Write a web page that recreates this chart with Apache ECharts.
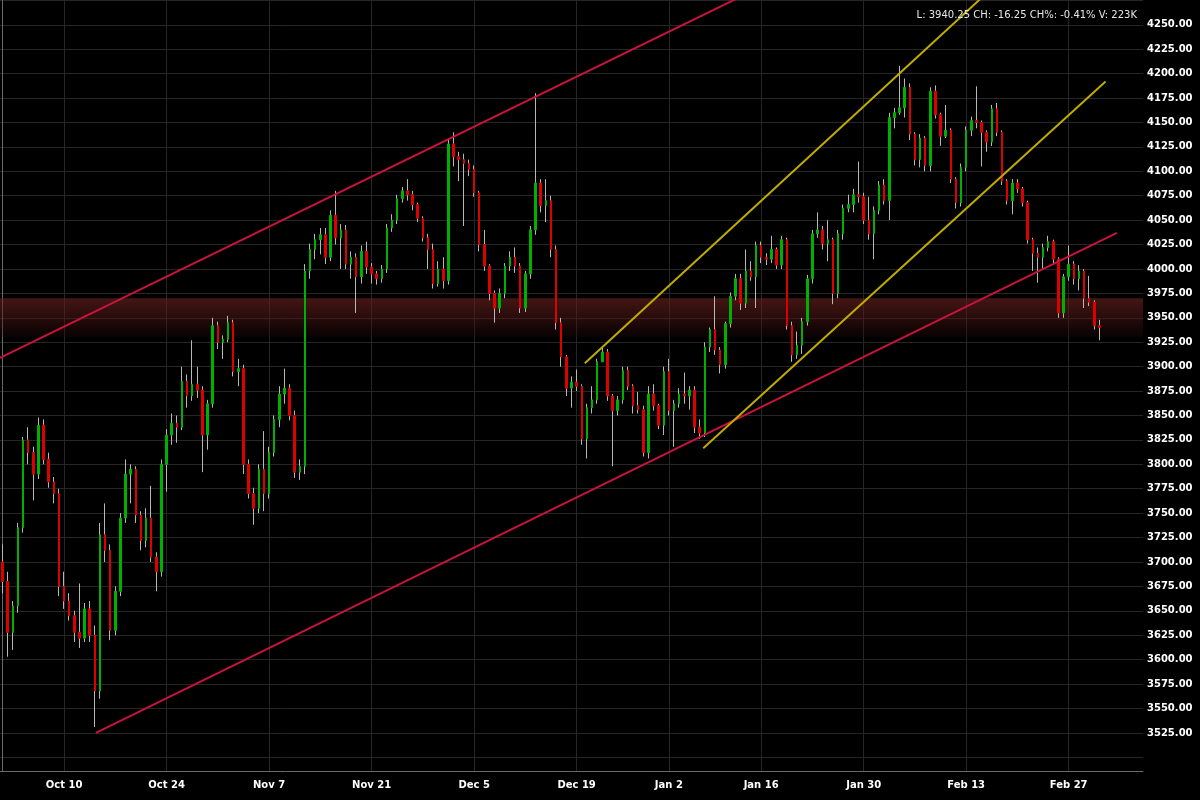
<!DOCTYPE html>
<html><head><meta charset="utf-8">
<script src="https://cdn.jsdelivr.net/npm/echarts@6/dist/echarts.min.js"></script>
<style>html,body{margin:0;padding:0;background:#000;}#c{width:1200px;height:800px;}</style>
</head><body><div id="c"></div>
<script>
// trading sessions (two candles per session), plus a few empty future sessions at the right
const tradingDays = ['Sep 30',
'Oct 3','Oct 4','Oct 5','Oct 6','Oct 7',
'Oct 10','Oct 11','Oct 12','Oct 13','Oct 14',
'Oct 17','Oct 18','Oct 19','Oct 20','Oct 21',
'Oct 24','Oct 25','Oct 26','Oct 27','Oct 28',
'Oct 31','Nov 1','Nov 2','Nov 3','Nov 4',
'Nov 7','Nov 8','Nov 9','Nov 10','Nov 11',
'Nov 14','Nov 15','Nov 16','Nov 17','Nov 18',
'Nov 21','Nov 22','Nov 23','Nov 24','Nov 25',
'Nov 28','Nov 29','Nov 30','Dec 1','Dec 2',
'Dec 5','Dec 6','Dec 7','Dec 8','Dec 9',
'Dec 12','Dec 13','Dec 14','Dec 15','Dec 16',
'Dec 19','Dec 20','Dec 21','Dec 22','Dec 23',
'Dec 27','Dec 28','Dec 29','Dec 30',
'Jan 3','Jan 4','Jan 5','Jan 6',
'Jan 9','Jan 10','Jan 11','Jan 12','Jan 13',
'Jan 16','Jan 17','Jan 18','Jan 19','Jan 20',
'Jan 23','Jan 24','Jan 25','Jan 26','Jan 27',
'Jan 30','Jan 31','Feb 1','Feb 2','Feb 3',
'Feb 6','Feb 7','Feb 8','Feb 9','Feb 10',
'Feb 13','Feb 14','Feb 15','Feb 16','Feb 17',
'Feb 20','Feb 21','Feb 22','Feb 23','Feb 24',
'Feb 27','Feb 28','Mar 1','Mar 2',
'Mar 3','Mar 6','Mar 7','Mar 8'];
const slotCount = 223;

// x-axis tick labels: session where the tick sits -> text shown
const tickDays   = ['Oct 10','Oct 24','Nov 7','Nov 21','Dec 5','Dec 19','Jan 3','Jan 16','Jan 30','Feb 13','Feb 27'];
const tickLabels = ['Oct 10','Oct 24','Nov 7','Nov 21','Dec 5','Dec 19','Jan 2','Jan 16','Jan 30','Feb 13','Feb 27'];

// [open, close, low, high]
const candles = [
[3700,3680,3668,3718],[3680,3628,3603,3690],[3628,3655,3610,3660],[3655,3735,3648,3740],
[3735,3825,3730,3828],[3825,3812,3800,3838],[3812,3790,3763,3818],[3790,3840,3785,3848],
[3840,3805,3800,3846],[3805,3782,3776,3812],[3782,3770,3760,3787],[3770,3675,3665,3775],
[3675,3660,3652,3690],[3660,3645,3640,3668],[3645,3628,3618,3650],[3628,3622,3612,3678],
[3622,3652,3618,3658],[3652,3625,3618,3660],[3625,3568,3531,3635],[3568,3728,3560,3740],
[3728,3712,3700,3760],[3712,3630,3620,3718],[3630,3670,3625,3675],[3670,3745,3665,3750],
[3745,3790,3740,3805],[3790,3795,3760,3800],[3795,3748,3740,3798],[3748,3722,3712,3752],
[3722,3745,3715,3755],[3745,3705,3700,3778],[3705,3690,3670,3710],[3690,3800,3685,3805],
[3800,3830,3772,3836],[3830,3842,3820,3852],[3842,3838,3822,3850],[3838,3885,3835,3900],
[3885,3870,3858,3892],[3870,3882,3865,3927],[3882,3876,3868,3900],[3876,3830,3792,3880],
[3830,3862,3815,3866],[3862,3942,3858,3950],[3942,3925,3918,3946],[3925,3928,3908,3932],
[3928,3945,3925,3952],[3945,3895,3890,3948],[3895,3898,3880,3908],[3898,3800,3790,3902],
[3800,3770,3765,3805],[3770,3755,3738,3776],[3755,3795,3750,3800],[3795,3770,3752,3834],
[3770,3812,3765,3818],[3812,3846,3808,3850],[3846,3872,3838,3880],[3872,3878,3862,3898],
[3878,3850,3845,3882],[3850,3792,3786,3855],[3792,3798,3784,3805],[3798,3998,3790,4005],
[3998,4020,3990,4026],[4020,4030,4010,4036],[4030,4035,4015,4042],[4035,4012,4005,4042],
[4012,4055,4008,4060],[4055,4032,4025,4080],[4032,4040,4000,4046],[4040,4005,4000,4045],
[4005,4012,3990,4018],[4012,3992,3955,4016],[3992,4018,3985,4024],[4018,4002,3995,4028],
[4002,3995,3985,4006],[3995,3990,3984,3998],[3990,4000,3986,4004],[4000,4042,3996,4046],
[4042,4050,4038,4056],[4050,4072,4046,4076],[4072,4080,4068,4084],[4080,4076,4070,4092],
[4076,4066,4060,4080],[4066,4052,4048,4068],[4052,4032,4028,4054],[4032,4020,4000,4036],
[4020,3985,3980,4026],[3985,4000,3982,4008],[4000,3988,3980,4012],[3988,4128,3984,4132],
[4128,4115,4105,4140],[4115,4112,4090,4120],[4112,4108,4044,4118],[4108,4102,4095,4112],
[4102,4078,4074,4106],[4078,4025,4018,4080],[4025,4003,3998,4040],[4003,3975,3968,4005],
[3975,3960,3945,3978],[3960,3975,3955,3980],[3975,4003,3970,4006],[4003,4012,3998,4018],
[4012,4003,3996,4022],[4003,3960,3955,4006],[3960,3995,3956,3998],[3995,4040,3990,4044],
[4040,4088,4035,4180],[4088,4065,4058,4092],[4065,4070,4048,4092],[4070,4020,4012,4075],
[4020,3945,3938,4024],[3945,3910,3900,3950],[3910,3878,3870,3912],[3878,3884,3858,3890],
[3884,3880,3875,3897],[3880,3826,3820,3882],[3826,3858,3806,3862],[3858,3866,3852,3880],
[3866,3905,3862,3908],[3905,3915,3905,3920],[3915,3870,3865,3918],[3870,3855,3798,3872],
[3855,3866,3850,3870],[3866,3896,3862,3900],[3896,3880,3876,3900],[3880,3860,3852,3882],
[3860,3856,3852,3874],[3856,3812,3808,3860],[3812,3872,3806,3880],[3872,3860,3855,3882],
[3860,3840,3836,3862],[3840,3895,3830,3900],[3895,3855,3850,3908],[3855,3862,3818,3866],
[3862,3872,3858,3878],[3872,3870,3862,3894],[3870,3876,3856,3880],[3876,3838,3832,3880],
[3838,3832,3826,3846],[3832,3920,3828,3925],[3920,3938,3915,3940],[3938,3917,3912,3972],
[3917,3902,3893,3920],[3902,3944,3898,3946],[3944,3972,3940,3976],[3972,3990,3968,3995],
[3990,3965,3958,3995],[3965,3998,3960,4020],[3998,3992,3988,4008],[3992,4024,3960,4028],
[4024,4012,4006,4028],[4012,4010,4004,4016],[4010,4020,4006,4034],[4020,4004,4000,4022],
[4004,4030,4000,4034],[4030,3942,3938,4032],[3942,3912,3905,3946],[3912,3922,3908,3936],
[3922,3946,3913,3950],[3946,3990,3942,3994],[3990,4036,3985,4040],[4036,4040,4032,4058],
[4040,4026,4020,4044],[4026,4030,4008,4050],[4030,3975,3964,4032],[3975,4036,3970,4040],
[4036,4062,4030,4066],[4062,4066,4058,4076],[4066,4076,4058,4082],[4076,4074,4068,4110],
[4074,4050,4046,4078],[4050,4036,4030,4074],[4036,4060,4010,4064],[4060,4086,4056,4090],
[4086,4070,4066,4092],[4070,4155,4050,4160],[4155,4160,4144,4165],[4160,4165,4158,4208],
[4165,4186,4155,4195],[4186,4138,4132,4190],[4138,4112,4106,4140],[4112,4134,4104,4138],
[4134,4106,4100,4136],[4106,4182,4100,4186],[4182,4158,4154,4188],[4158,4136,4126,4160],
[4136,4142,4134,4168],[4142,4092,4088,4144],[4092,4068,4062,4094],[4068,4104,4064,4108],
[4104,4142,4100,4146],[4142,4152,4136,4156],[4152,4150,4144,4187],[4150,4140,4105,4152],
[4140,4130,4120,4142],[4130,4164,4126,4168],[4164,4140,4136,4170],[4140,4090,4086,4142],
[4090,4070,4066,4092],[4070,4088,4056,4092],[4088,4082,4078,4092],[4082,4068,4064,4084],
[4068,4030,4026,4070],[4030,4016,3998,4032],[4016,4012,3986,4022],[4012,4022,4000,4026],
[4022,4028,4018,4034],[4028,4010,4006,4030],[4010,3955,3950,4012],[3955,3992,3950,3995],
[3992,4005,3988,4024],[4005,3990,3984,4008],[3990,3998,3978,4004],[3998,3970,3960,4000],
[3970,3966,3962,3993],[3966,3942,3938,3968],[3942,3940.25,3927,3948]
];

// trend lines: [slot position, price] end points
const redUpper    = [[-0.5, 3909], [148, 4289]];
const redLower    = [[18.2, 3525], [217.4, 4037]];
const yellowUpper = [[113.6, 3903.5], [194.6, 4295]];
const yellowLower = [[136.7, 3816.5], [215.2, 4192]];

// resistance / support zone (price range)
const zone = [3930, 3970];

const headerText = 'L: 3940.25 CH: -16.25 CH%: -0.41% V: 223K';

const categories = tradingDays.flatMap(d => [d + ' #1', d + ' #2']).slice(0, slotCount);
const tickMap = {};
tickDays.forEach((d, i) => { tickMap[d + ' #1'] = tickLabels[i]; });
const isTick = (idx, val) => tickMap[val] !== undefined;
const bodies = candles.map(([o, c]) => [o, c, Math.min(o, c), Math.max(o, c)]);

const chart = echarts.init(document.getElementById('c'), null, {renderer: 'canvas'});
chart.setOption({
  backgroundColor: '#000',
  animation: false,
  title: {
    text: headerText, right: 58, top: 5,
    textStyle: {color: '#e6e6e6', fontSize: 10, fontWeight: 'normal', fontFamily: 'DejaVu Sans'}
  },
  grid: {left: 0, right: 57, top: 0, bottom: 29, containLabel: false},
  xAxis: [{
    type: 'category', data: categories, boundaryGap: true,
    axisLine: {show: true, lineStyle: {color: '#6a6a6a', width: 1}},
    axisTick: {show: false},
    axisLabel: {
      interval: isTick, formatter: v => tickMap[v] || '',
      color: '#ffffff', fontWeight: 'bold', fontSize: 10, fontFamily: 'DejaVu Sans', margin: 9
    },
    splitLine: {show: true, interval: isTick, alignWithLabel: true, lineStyle: {color: '#262626', width: 1}}
  }, {
    type: 'value', min: -0.5, max: slotCount - 0.5, show: false
  }],
  yAxis: {
    type: 'value', position: 'right', min: 3486, max: 4275.4,
    minInterval: 25, maxInterval: 25, splitNumber: 32,
    axisLine: {show: true, lineStyle: {color: '#6a6a6a', width: 1}},
    axisTick: {show: false},
    splitLine: {show: true, lineStyle: {color: '#262626', width: 1}},
    axisLabel: {
      color: '#ffffff', fontWeight: 'bold', fontSize: 10, fontFamily: 'DejaVu Sans', margin: 4,
      showMinLabel: false, showMaxLabel: false,
      formatter: v => (v < 3520 || v > 4260) ? '' : v.toFixed(2)
    }
  },
  series: [
    {
      type: 'line', xAxisIndex: 1, data: [], silent: true, z: 1,
      markArea: {
        silent: true,
        itemStyle: {
          color: {type: 'linear', x: 0, y: 0, x2: 0, y2: 1, colorStops: [
            {offset: 0, color: 'rgba(110,36,32,0.62)'},
            {offset: 0.5, color: 'rgba(80,24,22,0.5)'},
            {offset: 1, color: 'rgba(40,10,10,0.25)'}
          ]}
        },
        data: [[{yAxis: zone[1]}, {yAxis: zone[0]}]]
      }
    },
    {
      name: 'wicks', type: 'candlestick', data: candles, barWidth: 1, z: 3, silent: true,
      itemStyle: {color: '#b8b8b8', color0: '#b8b8b8', borderColor: '#b8b8b8', borderColor0: '#b8b8b8', borderWidth: 1}
    },
    {
      name: 'bodies', type: 'candlestick', data: bodies, barWidth: 2, z: 4, silent: true,
      itemStyle: {color: '#00b000', color0: '#dd0000', borderColor: '#00b000', borderColor0: '#dd0000', borderWidth: 1}
    },
    {type: 'line', xAxisIndex: 1, data: redUpper, symbol: 'none', silent: true, z: 5, lineStyle: {color: '#c8143c', width: 2}},
    {type: 'line', xAxisIndex: 1, data: redLower, symbol: 'none', silent: true, z: 5, lineStyle: {color: '#c8143c', width: 2}},
    {type: 'line', xAxisIndex: 1, data: yellowUpper, symbol: 'none', silent: true, z: 5, lineStyle: {color: '#c0ac00', width: 2}},
    {type: 'line', xAxisIndex: 1, data: yellowLower, symbol: 'none', silent: true, z: 5, lineStyle: {color: '#c0ac00', width: 2}}
  ]
});
</script>
</body></html>
